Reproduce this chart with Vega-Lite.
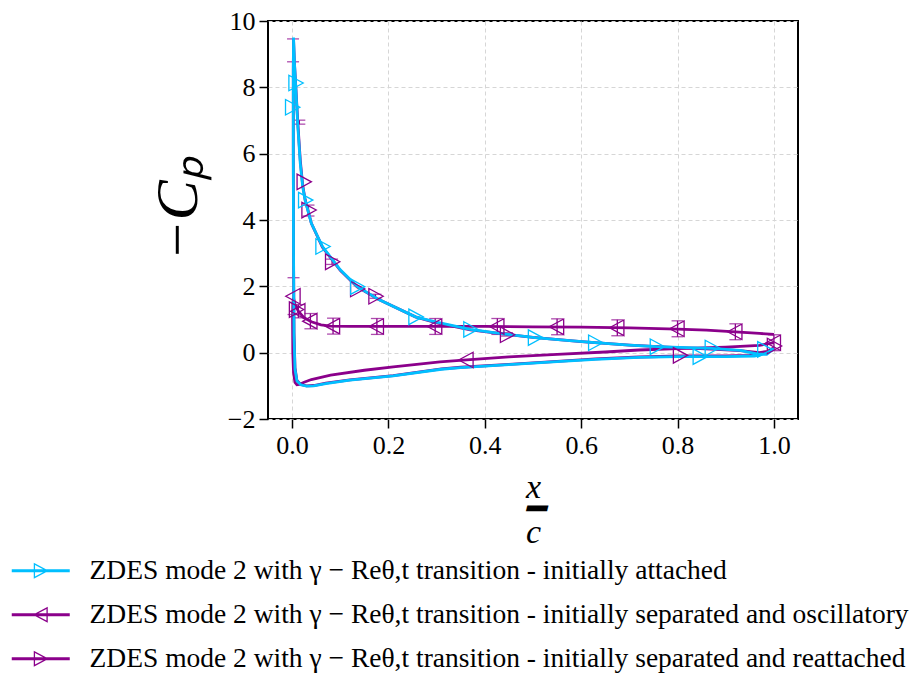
{
  "$schema": "https://vega.github.io/schema/vega-lite/v6.json",
  "width": 530,
  "height": 398,
  "autosize": {"type": "none"},
  "padding": {"left": 268, "top": 21, "right": 121, "bottom": 256},
  "background": "white",
  "config": {
    "view": {"stroke": "black", "strokeWidth": 2},
    "axis": {
      "domain": false, "grid": true, "gridDash": [4, 3], "gridColor": "#d6d6d6", "gridWidth": 1,
      "tickColor": "black", "tickWidth": 1.5, "tickSize": 9,
      "labelFont": "Liberation Serif", "labelFontSize": 26, "labelColor": "black", "labelPadding": 4,
      "titleFont": "Liberation Serif", "titleColor": "black", "titleFontWeight": "normal"
    }
  },
  "datasets": {
    "lines": [
      {"s":"attached","o":1,"x":1.0,"y":0.12},{"s":"attached","o":2,"x":0.985,"y":-0.03},{"s":"attached","o":3,"x":0.96,"y":-0.1},{"s":"attached","o":4,"x":0.9,"y":-0.12},{"s":"attached","o":5,"x":0.8,"y":-0.12},{"s":"attached","o":6,"x":0.72,"y":-0.14},{"s":"attached","o":7,"x":0.63,"y":-0.2},{"s":"attached","o":8,"x":0.55,"y":-0.27},{"s":"attached","o":9,"x":0.45,"y":-0.36},{"s":"attached","o":10,"x":0.35,"y":-0.45},{"s":"attached","o":11,"x":0.31,"y":-0.5},{"s":"attached","o":12,"x":0.21,"y":-0.7},{"s":"attached","o":13,"x":0.12,"y":-0.83},{"s":"attached","o":14,"x":0.07,"y":-0.93},{"s":"attached","o":15,"x":0.045,"y":-1.0},{"s":"attached","o":16,"x":0.03,"y":-1.01},{"s":"attached","o":17,"x":0.018,"y":-0.97},{"s":"attached","o":18,"x":0.01,"y":-0.85},{"s":"attached","o":19,"x":0.006,"y":-0.5},{"s":"attached","o":20,"x":0.004,"y":0.5},{"s":"attached","o":21,"x":0.003,"y":3.0},{"s":"attached","o":22,"x":0.0025,"y":6.0},{"s":"attached","o":23,"x":0.0025,"y":8.5},{"s":"attached","o":24,"x":0.003,"y":9.5},{"s":"attached","o":25,"x":0.005,"y":8.7},{"s":"attached","o":26,"x":0.008,"y":7.9},{"s":"attached","o":27,"x":0.012,"y":6.8},{"s":"attached","o":28,"x":0.017,"y":5.7},{"s":"attached","o":29,"x":0.022,"y":5.0},{"s":"attached","o":30,"x":0.027,"y":4.6},{"s":"attached","o":31,"x":0.04,"y":3.9},{"s":"attached","o":32,"x":0.063,"y":3.2},{"s":"attached","o":33,"x":0.1,"y":2.5},{"s":"attached","o":34,"x":0.135,"y":2.0},{"s":"attached","o":35,"x":0.18,"y":1.6},{"s":"attached","o":36,"x":0.256,"y":1.08},{"s":"attached","o":37,"x":0.3,"y":0.92},{"s":"attached","o":38,"x":0.37,"y":0.7},{"s":"attached","o":39,"x":0.43,"y":0.58},{"s":"attached","o":40,"x":0.504,"y":0.455},{"s":"attached","o":41,"x":0.57,"y":0.37},{"s":"attached","o":42,"x":0.629,"y":0.3},{"s":"attached","o":43,"x":0.7,"y":0.23},{"s":"attached","o":44,"x":0.757,"y":0.18},{"s":"attached","o":45,"x":0.82,"y":0.15},{"s":"attached","o":46,"x":0.87,"y":0.13},{"s":"attached","o":47,"x":0.93,"y":0.07},{"s":"attached","o":48,"x":0.965,"y":-0.04},{"s":"attached","o":49,"x":0.985,"y":-0.05},{"s":"attached","o":50,"x":1.0,"y":0.12},
      {"s":"reattached","o":1,"x":1.0,"y":0.15},{"s":"reattached","o":2,"x":0.98,"y":-0.02},{"s":"reattached","o":3,"x":0.95,"y":-0.08},{"s":"reattached","o":4,"x":0.9,"y":-0.1},{"s":"reattached","o":5,"x":0.805,"y":-0.1},{"s":"reattached","o":6,"x":0.72,"y":-0.13},{"s":"reattached","o":7,"x":0.63,"y":-0.19},{"s":"reattached","o":8,"x":0.55,"y":-0.26},{"s":"reattached","o":9,"x":0.45,"y":-0.35},{"s":"reattached","o":10,"x":0.35,"y":-0.44},{"s":"reattached","o":11,"x":0.31,"y":-0.49},{"s":"reattached","o":12,"x":0.21,"y":-0.69},{"s":"reattached","o":13,"x":0.12,"y":-0.82},{"s":"reattached","o":14,"x":0.07,"y":-0.92},{"s":"reattached","o":15,"x":0.045,"y":-0.99},{"s":"reattached","o":16,"x":0.03,"y":-1.0},{"s":"reattached","o":17,"x":0.018,"y":-0.96},{"s":"reattached","o":18,"x":0.01,"y":-0.84},{"s":"reattached","o":19,"x":0.006,"y":-0.45},{"s":"reattached","o":20,"x":0.004,"y":0.6},{"s":"reattached","o":21,"x":0.003,"y":3.1},{"s":"reattached","o":22,"x":0.0025,"y":6.1},{"s":"reattached","o":23,"x":0.0025,"y":8.5},{"s":"reattached","o":24,"x":0.003,"y":9.45},{"s":"reattached","o":25,"x":0.005,"y":8.7},{"s":"reattached","o":26,"x":0.008,"y":7.95},{"s":"reattached","o":27,"x":0.012,"y":6.9},{"s":"reattached","o":28,"x":0.017,"y":5.8},{"s":"reattached","o":29,"x":0.022,"y":5.05},{"s":"reattached","o":30,"x":0.027,"y":4.62},{"s":"reattached","o":31,"x":0.04,"y":3.9},{"s":"reattached","o":32,"x":0.063,"y":3.18},{"s":"reattached","o":33,"x":0.1,"y":2.48},{"s":"reattached","o":34,"x":0.135,"y":1.98},{"s":"reattached","o":35,"x":0.18,"y":1.6},{"s":"reattached","o":36,"x":0.256,"y":1.08},{"s":"reattached","o":37,"x":0.3,"y":0.9},{"s":"reattached","o":38,"x":0.37,"y":0.69},{"s":"reattached","o":39,"x":0.446,"y":0.55},{"s":"reattached","o":40,"x":0.5,"y":0.46},{"s":"reattached","o":41,"x":0.6,"y":0.33},{"s":"reattached","o":42,"x":0.7,"y":0.23},{"s":"reattached","o":43,"x":0.8,"y":0.15},{"s":"reattached","o":44,"x":0.87,"y":0.11},{"s":"reattached","o":45,"x":0.93,"y":0.06},{"s":"reattached","o":46,"x":0.97,"y":0.0},{"s":"reattached","o":47,"x":0.99,"y":0.05},{"s":"reattached","o":48,"x":1.0,"y":0.15},
      {"s":"oscillatory","o":1,"x":1.0,"y":0.55},{"s":"oscillatory","o":2,"x":0.97,"y":0.58},{"s":"oscillatory","o":3,"x":0.92,"y":0.63},{"s":"oscillatory","o":4,"x":0.86,"y":0.68},{"s":"oscillatory","o":5,"x":0.8,"y":0.71},{"s":"oscillatory","o":6,"x":0.7,"y":0.75},{"s":"oscillatory","o":7,"x":0.6,"y":0.77},{"s":"oscillatory","o":8,"x":0.5,"y":0.78},{"s":"oscillatory","o":9,"x":0.4,"y":0.79},{"s":"oscillatory","o":10,"x":0.3,"y":0.79},{"s":"oscillatory","o":11,"x":0.2,"y":0.79},{"s":"oscillatory","o":12,"x":0.12,"y":0.79},{"s":"oscillatory","o":13,"x":0.08,"y":0.8},{"s":"oscillatory","o":14,"x":0.06,"y":0.84},{"s":"oscillatory","o":15,"x":0.04,"y":0.93},{"s":"oscillatory","o":16,"x":0.025,"y":1.05},{"s":"oscillatory","o":17,"x":0.013,"y":1.25},{"s":"oscillatory","o":18,"x":0.006,"y":1.45},{"s":"oscillatory","o":19,"x":0.003,"y":1.65},{"s":"oscillatory","o":20,"x":0.0015,"y":1.5},{"s":"oscillatory","o":21,"x":0.001,"y":1.0},{"s":"oscillatory","o":22,"x":0.0015,"y":0.0},{"s":"oscillatory","o":23,"x":0.003,"y":-0.6},{"s":"oscillatory","o":24,"x":0.006,"y":-0.9},{"s":"oscillatory","o":25,"x":0.01,"y":-0.97},{"s":"oscillatory","o":26,"x":0.015,"y":-0.96},{"s":"oscillatory","o":27,"x":0.025,"y":-0.89},{"s":"oscillatory","o":28,"x":0.04,"y":-0.81},{"s":"oscillatory","o":29,"x":0.08,"y":-0.68},{"s":"oscillatory","o":30,"x":0.15,"y":-0.53},{"s":"oscillatory","o":31,"x":0.21,"y":-0.43},{"s":"oscillatory","o":32,"x":0.307,"y":-0.28},{"s":"oscillatory","o":33,"x":0.362,"y":-0.22},{"s":"oscillatory","o":34,"x":0.45,"y":-0.13},{"s":"oscillatory","o":35,"x":0.55,"y":-0.05},{"s":"oscillatory","o":36,"x":0.65,"y":0.02},{"s":"oscillatory","o":37,"x":0.72,"y":0.08},{"s":"oscillatory","o":38,"x":0.8,"y":0.12},{"s":"oscillatory","o":39,"x":0.9,"y":0.17},{"s":"oscillatory","o":40,"x":0.97,"y":0.22},{"s":"oscillatory","o":41,"x":1.0,"y":0.3}
    ],
    "markers": [
      {"s":"attached","x":0.0,"y":7.4},{"s":"attached","x":0.007,"y":8.13},{"s":"attached","x":0.027,"y":4.6},{"s":"attached","x":0.063,"y":3.2},{"s":"attached","x":0.135,"y":1.99},{"s":"attached","x":0.256,"y":1.08},{"s":"attached","x":0.37,"y":0.7},{"s":"attached","x":0.504,"y":0.455},{"s":"attached","x":0.629,"y":0.3},{"s":"attached","x":0.757,"y":0.18},{"s":"attached","x":0.871,"y":0.14},{"s":"attached","x":0.846,"y":-0.12},{"s":"attached","x":0.98,"y":0.1},
      {"s":"oscillatory","x":0.003,"y":1.7},{"s":"oscillatory","x":0.013,"y":1.25},{"s":"oscillatory","x":0.038,"y":0.95},{"s":"oscillatory","x":0.085,"y":0.8},{"s":"oscillatory","x":0.176,"y":0.79},{"s":"oscillatory","x":0.297,"y":0.79},{"s":"oscillatory","x":0.426,"y":0.79},{"s":"oscillatory","x":0.55,"y":0.78},{"s":"oscillatory","x":0.675,"y":0.75},{"s":"oscillatory","x":0.8,"y":0.72},{"s":"oscillatory","x":0.92,"y":0.63},{"s":"oscillatory","x":1.0,"y":0.3},{"s":"oscillatory","x":0.362,"y":-0.22},
      {"s":"reattached","x":0.024,"y":5.15},{"s":"reattached","x":0.034,"y":4.3},{"s":"reattached","x":0.083,"y":2.74},{"s":"reattached","x":0.135,"y":1.92},{"s":"reattached","x":0.173,"y":1.7},{"s":"reattached","x":0.446,"y":0.54},{"s":"reattached","x":0.805,"y":-0.08},{"s":"reattached","x":1.0,"y":0.2},{"s":"reattached","x":0.008,"y":1.3}
    ],
    "errbars": [
      {"s":"oscillatory","x":0.003,"lo":1.15,"hi":2.26},{"s":"oscillatory","x":0.013,"lo":1.05,"hi":1.45},{"s":"oscillatory","x":0.038,"lo":0.72,"hi":1.18},{"s":"oscillatory","x":0.085,"lo":0.56,"hi":1.04},{"s":"oscillatory","x":0.176,"lo":0.55,"hi":1.03},{"s":"oscillatory","x":0.297,"lo":0.55,"hi":1.03},{"s":"oscillatory","x":0.426,"lo":0.55,"hi":1.03},{"s":"oscillatory","x":0.55,"lo":0.54,"hi":1.02},{"s":"oscillatory","x":0.675,"lo":0.51,"hi":0.99},{"s":"oscillatory","x":0.8,"lo":0.48,"hi":0.96},{"s":"oscillatory","x":0.92,"lo":0.39,"hi":0.87},{"s":"oscillatory","x":1.0,"lo":0.06,"hi":0.54},
      {"s":"reattached","x":0.002,"lo":8.77,"hi":9.46},{"s":"reattached","x":0.015,"lo":6.89,"hi":7.01},{"s":"reattached","x":0.034,"lo":4.12,"hi":4.45},{"s":"reattached","x":0.083,"lo":2.66,"hi":2.82},{"s":"reattached","x":0.173,"lo":1.64,"hi":1.76},{"s":"reattached","x":0.446,"lo":0.5,"hi":0.6}
    ]
  },
  "layer": [
    {
      "data": {"name": "errbars"},
      "mark": {"type": "rule", "color": "#8b008b", "strokeWidth": 1.3},
      "encoding": {
        "x": {"field": "x", "type": "quantitative", "scale": {"domain": [-0.05, 1.05], "nice": false, "zero": false},
              "axis": {"values": [0, 0.2, 0.4, 0.6, 0.8, 1.0], "format": ".1f", "title": ["x", "━", "c"], "titleFontSize": 34, "titleFontStyle": "italic", "titleLineHeight": 22.5, "titlePadding": 12}},
        "y": {"field": "lo", "type": "quantitative", "scale": {"domain": [-2, 10], "nice": false, "zero": false},
              "axis": {"values": [-2, 0, 2, 4, 6, 8, 10], "format": "d", "title": "−Cₚ", "titleFontSize": 60, "titleFontStyle": "italic", "titlePadding": 18, "titleY": 187}},
        "y2": {"field": "hi"}
      }
    },
    {
      "data": {"name": "errbars"},
      "mark": {"type": "tick", "orient": "horizontal", "color": "#8b008b", "size": 12, "thickness": 1.3},
      "encoding": {"x": {"field": "x", "type": "quantitative"}, "y": {"field": "lo", "type": "quantitative"}}
    },
    {
      "data": {"name": "errbars"},
      "mark": {"type": "tick", "orient": "horizontal", "color": "#8b008b", "size": 12, "thickness": 1.3},
      "encoding": {"x": {"field": "x", "type": "quantitative"}, "y": {"field": "hi", "type": "quantitative"}}
    },
    {
      "data": {"name": "lines"},
      "transform": [{"filter": "datum.s != 'attached'"}],
      "mark": {"type": "line", "strokeWidth": 2.8},
      "encoding": {
        "x": {"field": "x", "type": "quantitative"},
        "y": {"field": "y", "type": "quantitative"},
        "order": {"field": "o", "type": "quantitative"},
        "color": {
          "field": "s", "type": "nominal",
          "scale": {"domain": ["attached", "oscillatory", "reattached"], "range": ["#00bfff", "#8b008b", "#8b008b"]},
          "legend": {
            "orient": "none", "legendX": -241, "legendY": 536, "title": null, "padding": 0,
            "labelFont": "Liberation Serif", "labelFontSize": 27.5, "labelColor": "black", "labelLimit": 0,
            "labelOffset": 35, "rowPadding": 15, "symbolOffset": 0,
            "labelExpr": "'ZDES mode 2 with γ − Reθ,t transition - initially ' + (datum.value == 'attached' ? 'attached' : datum.value == 'oscillatory' ? 'separated and oscillatory' : 'separated and reattached')",
            "encode": {
              "symbols": {
                "update": {
                  "shape": {"signal": "datum.value == 'oscillatory' ? 'M-29,-1.4L29,-1.4L29,1.4L-29,1.4ZM7,-8L7,8L-8,0ZM5.7,-5.84L-5.24,0L5.7,5.84Z' : 'M-29,-1.4L29,-1.4L29,1.4L-29,1.4ZM-7,-8L8,0L-7,8ZM-5.7,-5.84L-5.7,5.84L5.24,0Z'"},
                  "size": {"value": 4},
                  "fill": {"scale": "color", "field": "value"},
                  "stroke": {"value": "transparent"},
                  "strokeWidth": {"value": 0},
                  "opacity": {"value": 1}
                }
              }
            }
          }
        }
      }
    },
    {
      "data": {"name": "lines"},
      "transform": [{"filter": "datum.s == 'attached'"}],
      "mark": {"type": "line", "strokeWidth": 2.8},
      "encoding": {
        "x": {"field": "x", "type": "quantitative"},
        "y": {"field": "y", "type": "quantitative"},
        "order": {"field": "o", "type": "quantitative"},
        "color": {"field": "s", "type": "nominal"}
      }
    },
    {
      "data": {"name": "markers"},
      "transform": [{"filter": "datum.s == 'reattached'"}],
      "mark": {"type": "point", "filled": false, "shape": "M-0.85,-1L1,0L-0.85,1Z", "size": 240, "strokeWidth": 1.3, "color": "#8b008b", "opacity": 1},
      "encoding": {"x": {"field": "x", "type": "quantitative"}, "y": {"field": "y", "type": "quantitative"}}
    },
    {
      "data": {"name": "markers"},
      "transform": [{"filter": "datum.s == 'oscillatory'"}],
      "mark": {"type": "point", "filled": false, "shape": "M0.85,-1L-1,0L0.85,1Z", "size": 240, "strokeWidth": 1.3, "color": "#8b008b", "opacity": 1},
      "encoding": {"x": {"field": "x", "type": "quantitative"}, "y": {"field": "y", "type": "quantitative"}}
    },
    {
      "data": {"name": "markers"},
      "transform": [{"filter": "datum.s == 'attached'"}],
      "mark": {"type": "point", "filled": false, "shape": "M-0.85,-1L1,0L-0.85,1Z", "size": 240, "strokeWidth": 1.3, "color": "#00bfff", "opacity": 1},
      "encoding": {"x": {"field": "x", "type": "quantitative"}, "y": {"field": "y", "type": "quantitative"}}
    }
  ]
}
